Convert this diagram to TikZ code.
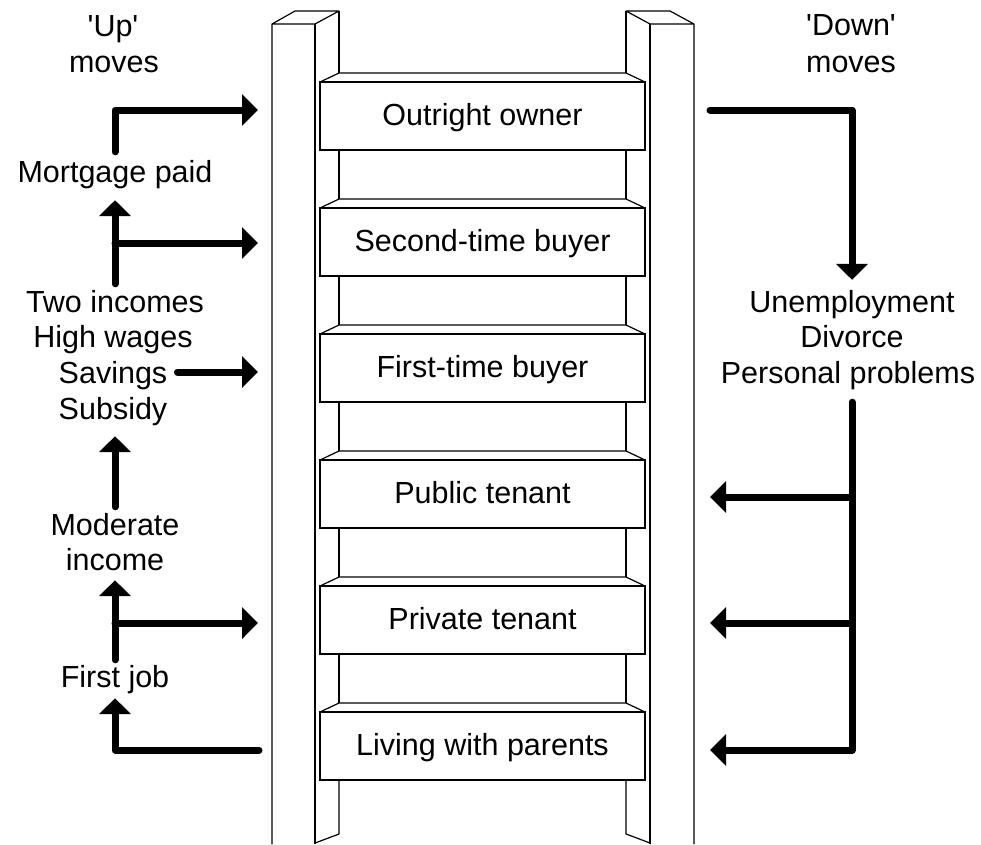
\documentclass[tikz,border=0pt]{standalone}
\usepackage{fontspec}
\setmainfont{Liberation Sans}
\usetikzlibrary{arrows.meta}
\begin{document}
\begin{tikzpicture}[x=1pt,y=-1pt,
  every node/.style={font=\fontsize{30.5}{35.5}\selectfont, inner sep=0pt},
  lbl/.style={anchor=base, text height=22pt, text depth=6.5pt},
  rung/.style={draw, line width=1.2pt, outer sep=0pt, minimum width=325pt, minimum height=68pt, text height=22pt, text depth=4pt},
  rail/.style={line width=1.2pt, line join=round},
  move/.style={line width=7pt, line cap=round, line join=round, -{Triangle[length=16pt,width=31pt]}}]
\useasboundingbox (0,0) rectangle (981,844);

% rails
\draw[rail] (272,844) -- (272,24) -- (295,11) -- (339,11) -- (315,24) -- (272,24);
\draw[rail] (315,24) -- (315,844);
\draw[rail] (694,844) -- (694,24) -- (670,11) -- (626,11) -- (650,24) -- (694,24);
\draw[rail] (650,24) -- (650,844);
\foreach \a/\b in {11/73,150/199,276/325,402/451,528/577,654/703}{
  \draw[rail] (339,\a) -- (339,\b);
  \draw[rail] (626,\a) -- (626,\b);
}
\draw[rail] (339,780) -- (339,834) -- (315,843);
\draw[rail] (626,780) -- (626,834) -- (650,843);

% rungs
\foreach \n/\t/\txt in {o1/82/Outright owner, o2/208/Second-time buyer, o3/334/First-time buyer, o4/460/Public tenant, o5/586/Private tenant, o6/712/Living with parents}{
  \node[rung] (\n) at (482.5,\t+34) {\txt};
  \draw[rail] (\n.north west) -- (339,\t-9) -- (626,\t-9) -- (\n.north east);
}

% labels
\node[lbl] (upq) at (113,36) {\textquotesingle Up\textquotesingle};
\node[lbl] (upm) at (114,72) {moves};
\node[lbl] (downq) at (851,35) {\textquotesingle Down\textquotesingle};
\node[lbl] (downm) at (851,72) {moves};
\node[lbl] (mort) at (115,182) {Mortgage paid};
\node[lbl] (two) at (115,312) {Two incomes};
\node[lbl] (high) at (113,347) {High wages};
\node[lbl] (sav) at (113,383) {Savings};
\node[lbl] (subs) at (113,419) {Subsidy};
\node[lbl] (moder) at (115,535) {Moderate};
\node[lbl] (inc) at (115,570) {income};
\node[lbl] (first) at (115,687) {First job};
\node[lbl] (unemp) at (852,312) {Unemployment};
\node[lbl] (div) at (852,347) {Divorce};
\node[lbl] (pers) at (848,383) {Personal problems};

% arrow ends at the rails
\coordinate (l1) at (258,110);
\coordinate (l2) at (258,243);
\coordinate (l3) at (258,372);
\coordinate (l5) at (258,623);
\coordinate (l6) at (259,750);
\coordinate (r1) at (710,110);
\coordinate (r4) at (710,497);
\coordinate (r5) at (710,623);
\coordinate (r6) at (710,750);

% up moves
\draw[move, shorten <=8pt] (mort.north) |- (l1);
\draw[move, shorten <=6pt, shorten >=11.5pt] (two.north) -- (mort.south);
\draw[move] (two.north |- l2) -- (l2);
\draw[move, shorten <=10pt] (sav.east |- l3) -- (l3);
\draw[move, shorten <=6pt, shorten >=10.5pt] (moder.north) -- (moder.north |- subs.south);
\draw[move, shorten <=5pt, shorten >=3.5pt] (first.north) -- (inc.south);
\draw[move] (first.north |- l5) -- (l5);
\draw[move, shorten >=4.5pt] (l6) -| (first.south);

% down moves
\draw[move, shorten >=10pt] (r1) -| (unemp.north);
\draw[move, shorten <=12.5pt] (unemp.north |- pers.south) |- (r6);
\draw[move] (unemp.north |- r4) -- (r4);
\draw[move] (unemp.north |- r5) -- (r5);
\end{tikzpicture}
\end{document}
